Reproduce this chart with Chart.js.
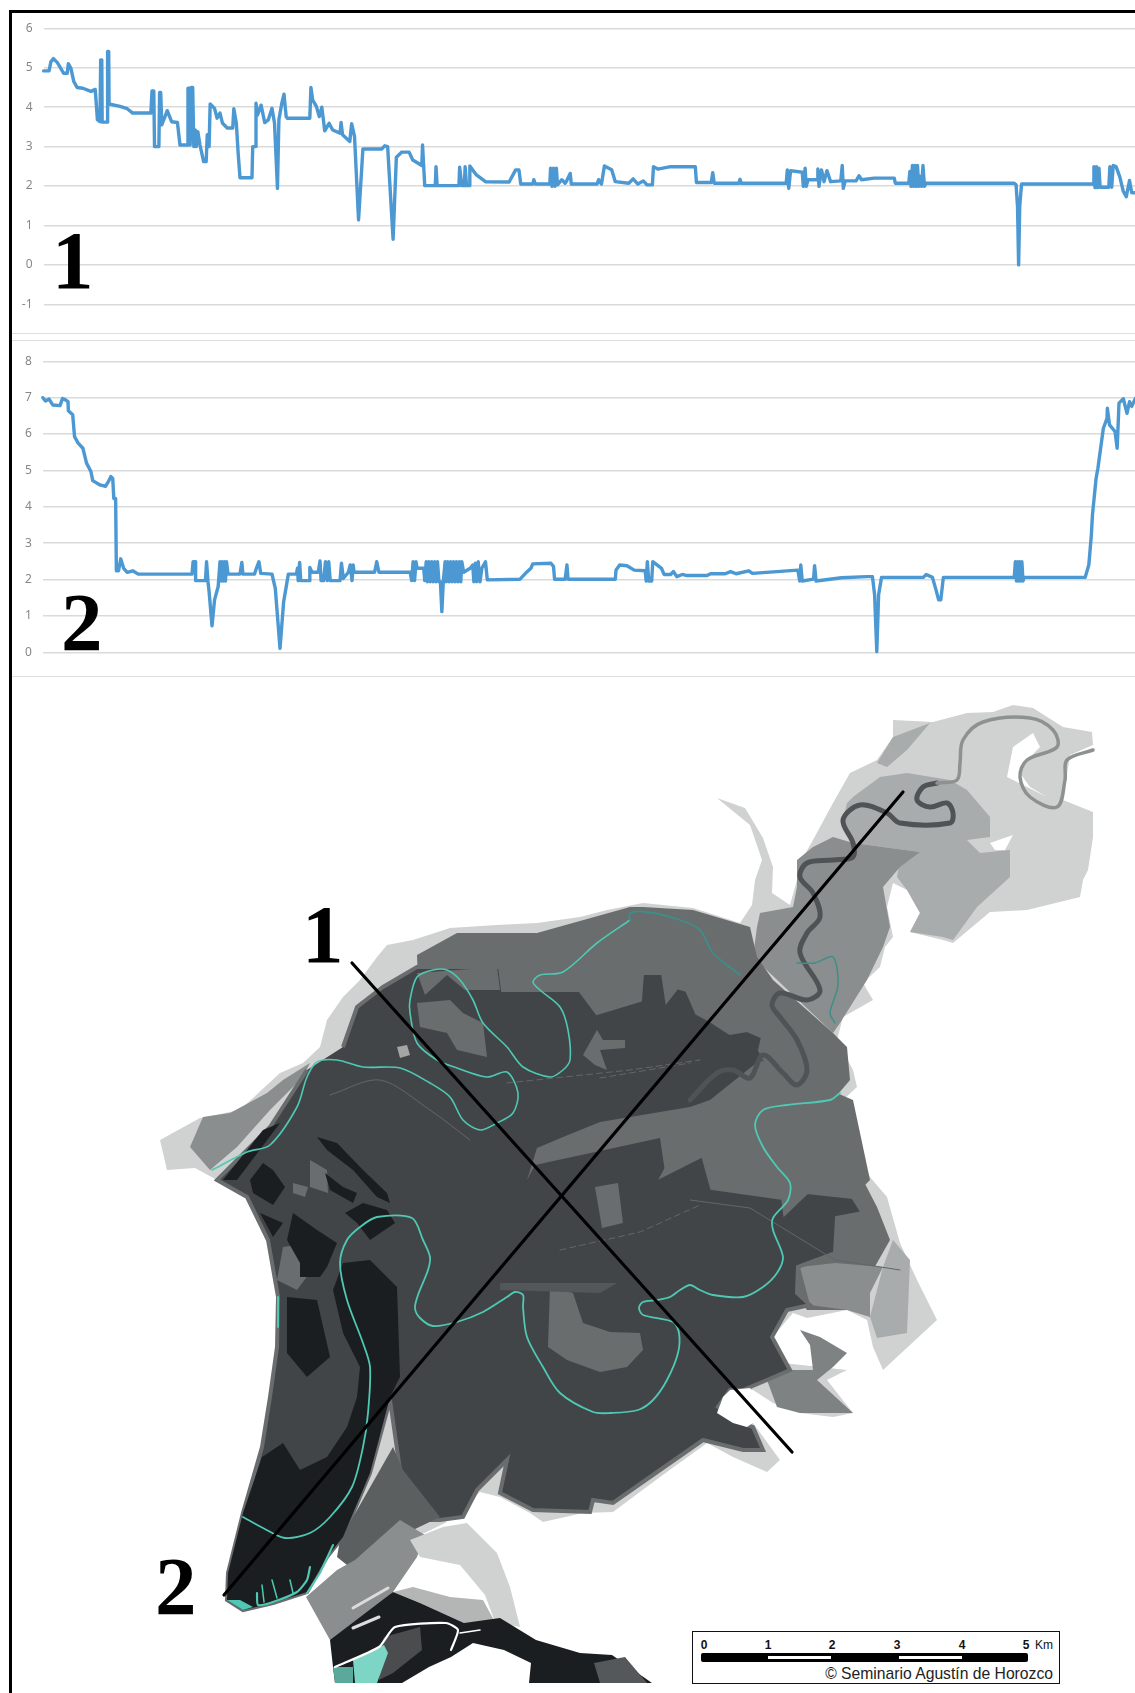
<!DOCTYPE html>
<html lang="es">
<head>
<meta charset="UTF-8">
<title>Perfiles y mapa</title>
<script src="https://cdn.jsdelivr.net/npm/chart.js"></script>
<style>
  html, body { margin: 0; padding: 0; background: #fff; }
  #page { position: relative; width: 1135px; height: 1693px; overflow: hidden; background: #fff; }
  canvas { position: absolute; left: 0; }
  .rule { position: absolute; left: 12px; right: 0; height: 1px; background: #dcdddd; }
  .frame { position: absolute; background: #000; }
  .num { position: absolute; font: bold 83px/83px "Liberation Serif", serif; color: #000; }
  #scale { position: absolute; left: 692px; top: 1631px; width: 366px; height: 51px; border: 1.5px solid #111; background: #fff; }
  .bar { position: absolute; background: #000; }
  .tick { position: absolute; top: 6px; width: 20px; margin-left: -10px; text-align: center; font: bold 12px "Liberation Sans", sans-serif; color: #111; }
  .credit { position: absolute; top: 33px; right: 6px; font: 15.7px "Liberation Sans", sans-serif; color: #222; white-space: nowrap; }
</style>
</head>
<body>
<div id="page">
  <canvas id="perfil1" width="1135" height="333" style="top:0"></canvas>
  <canvas id="perfil2" width="1135" height="336" style="top:340px"></canvas>
  <canvas id="mapa" width="1135" height="1013" style="top:680px"></canvas>

  <div class="frame" style="left:9px;top:10px;width:3px;height:1683px"></div>
  <div class="frame" style="left:9px;top:10px;width:1126px;height:3px"></div>
  <div class="rule" style="top:333px"></div>
  <div class="rule" style="top:340px"></div>
  <div class="rule" style="top:676px"></div>

  <div class="num" style="left:52px;top:219px">1</div>
  <div class="num" style="left:61px;top:581px">2</div>
  <div class="num" style="left:302px;top:893px">1</div>
  <div class="num" style="left:155px;top:1545px">2</div>

  <div id="scale">
    <div class="bar" style="left:8px;top:21px;width:327px;height:9px;border-radius:2px"></div>
    <div class="bar" style="left:75px;top:24px;width:63px;height:3px;background:#fff"></div>
    <div class="bar" style="left:206px;top:24px;width:63px;height:3px;background:#fff"></div>
    <div class="tick" style="left:11px">0</div>
    <div class="tick" style="left:75px">1</div>
    <div class="tick" style="left:139px">2</div>
    <div class="tick" style="left:204px">3</div>
    <div class="tick" style="left:269px">4</div>
    <div class="tick" style="left:333px">5</div>
    <div class="tick" style="left:351px;font-weight:normal">Km</div>
    <div class="credit">© Seminario Agustín de Horozco</div>
  </div>
</div>

<script>
// perfil 1
const dist1 = [
  120,135,140,147,158,175,185,188,195,203,
  212,228,250,262,268,275,277,280,281,295,
  296,299,300,330,350,365,415,418,423,425,
  437,439,442,445,460,472,488,495,515,517,
  521,523,526,530,533,537,540,544,550,560,
  567,570,575,578,590,597,605,612,625,640,
  643,650,655,660,693,695,702,704,708,718,
  728,738,748,755,763,767,775,781,787,790,
  852,855,860,870,878,885,893,905,915,935,
  938,942,962,967,975,986,998,1050,1058,1066,
  1081,1090,1105,1125,1135,1160,1162,1165,1168,1197,
  1199,1202,1262,1264,1270,1277,1279,1283,1290,1292,
  1310,1335,1400,1418,1427,1432,1465,1468,1472,1512,
  1514,1518,1522,1526,1530,1533,1545,1554,
  1557,1568,1571,1642,1646,1654,1662,1682,1692,1729,
  1741,1754,1769,1779,1794,1797,1809,1844,1912,1915,
  1956,1960,1964,2032,2035,2038,2162,2165,2169,2174,
  2206,2209,2214,2217,2222,2247,2249,2252,2259,2266,
  2274,2284,2312,2316,2319,2324,2354,2362,2369,2404,
  2459,2462,2499,2502,2505,2509,2512,2516,2519,2523,
  2526,2530,2534,2538,2542,2546,2789,2794,2798,2801,
  2804,2809,3006,3008,3011,3015,3018,3022,3025,3049,
  3052,3057,3061,3069,3079,3089,3097,3106,3112,3122
];
const nivel1 = [
  4.92,4.92,5.15,5.23,5.13,4.86,4.86,5.1,4.99,4.65,
  4.5,4.48,4.4,4.45,3.68,3.63,5.2,5.2,3.62,3.62,
  5.41,5.41,4.08,4.02,3.96,3.85,3.85,4.41,4.41,3.0,
  3.0,4.37,4.37,3.55,3.91,3.63,3.61,3.04,3.04,4.48,
  4.48,3.04,4.5,4.5,3.0,3.42,3.0,3.38,3.04,2.62,
  2.62,3.3,3.0,4.08,3.97,3.72,3.85,3.59,3.47,3.47,
  3.96,3.59,2.83,2.21,2.21,3.0,3.0,4.1,3.8,4.05,
  3.61,3.68,3.97,3.59,1.94,3.68,4.1,4.33,3.76,3.72,
  3.72,4.5,4.18,4.02,3.76,4.0,3.4,3.59,3.42,3.34,
  3.61,3.3,3.13,3.58,3.25,1.14,2.94,2.94,3.02,3.0,
  0.65,2.73,2.86,2.86,2.66,2.52,3.04,2.52,2.01,2.01,
  2.49,2.01,2.01,2.48,2.01,2.01,2.49,2.01,2.01,2.51,
  2.28,2.11,2.1,2.41,2.41,2.05,2.05,2.16,2.05,2.05,
  2.45,1.99,2.45,1.99,2.45,2.03,2.16,2.07,
  2.11,2.32,2.05,2.05,2.16,2.05,2.51,2.41,2.11,2.07,
  2.18,2.05,2.13,2.03,2.03,2.49,2.43,2.49,2.49,2.09,
  2.09,2.34,2.07,2.07,2.17,2.07,2.07,2.41,1.94,2.39,
  2.35,1.99,2.45,1.99,2.16,2.16,2.43,1.99,2.41,2.11,
  2.39,2.11,2.13,2.52,1.94,2.13,2.13,2.26,2.16,2.2,
  2.2,2.07,2.07,2.37,1.99,2.52,1.99,2.52,1.99,2.52,
  1.99,2.24,1.99,2.52,1.99,2.07,2.07,2.03,1.48,0,
  1.48,2.05,2.05,2.49,1.96,2.49,1.96,2.45,1.97,1.97,
  2.49,1.97,2.52,2.49,2.24,1.86,1.73,2.14,1.83,1.83
];

// perfil 2
const dist2 = [
  118,125,135,145,165,172,180,187,188,200,
  205,215,228,238,250,255,275,290,298,305,
  310,313,318,320,326,332,340,350,365,380,
  528,531,537,538,565,568,572,575,583,590,
  600,605,608,611,614,617,620,623,627,660,
  665,668,700,705,712,717,748,757,770,780,
  793,815,818,820,824,827,850,852,858,875,
  880,883,890,895,900,904,908,935,939,944,
  958,963,968,971,974,1030,1036,1042,1128,1132,
  1136,1140,1144,1147,1165,1168,1172,1175,1179,1183,
  1187,1191,1195,1199,1203,1207,1211,1215,1219,1224,
  1227,1231,1235,1239,1243,1247,1251,1255,1259,1263,
  1267,1270,1275,1293,1300,1303,1307,1311,1315,1320,
  1325,1335,1340,1430,1445,1460,1465,1515,1522,1525,
  1554,1559,1562,1692,1694,1704,1724,1744,1774,
  1777,1780,1784,1792,1795,1819,1826,1844,1852,1861,
  1876,1889,1944,1954,1994,2009,2024,2059,2069,2194,
  2199,2202,2206,2237,2240,2244,2314,2384,2399,2405,
  2411,2416,2424,2539,2547,2564,2574,2581,2587,2594,
  2789,2792,2795,2798,2801,2804,2807,2810,2813,2816,
  2984,2994,3001,3004,3014,3019,3034,3044,3045,3051,
  3066,3072,3077,3089,3099,3106,3112,3122
];
const nivel2 = [
  7.0,6.91,6.96,6.8,6.78,6.98,6.94,6.89,6.64,6.53,
  5.93,5.75,5.61,5.2,4.97,4.72,4.6,4.56,4.69,4.83,
  4.78,4.23,4.23,2.24,2.24,2.57,2.31,2.2,2.24,2.15,
  2.15,2.49,2.49,1.97,1.97,2.49,1.94,1.67,0.73,1.44,
  1.81,2.49,1.96,2.49,1.96,2.49,1.96,2.49,2.15,2.15,
  2.47,2.15,2.15,2.31,2.49,2.17,2.15,1.76,0.11,1.39,
  2.15,2.15,2.31,1.97,2.47,1.97,1.97,2.33,2.2,2.2,
  2.51,1.97,1.97,2.49,1.97,2.49,1.97,1.97,2.45,2.03,
  2.2,2.4,1.97,2.4,2.2,2.2,2.49,2.2,2.2,1.97,
  2.49,1.97,2.49,2.31,2.31,1.97,2.49,1.94,2.49,1.94,
  2.49,1.94,2.49,1.94,2.49,1.94,1.94,1.12,1.94,2.49,
  1.94,2.49,1.94,2.49,1.94,2.49,1.94,2.49,1.94,2.49,
  1.94,2.49,2.2,2.31,2.4,1.94,2.45,1.94,2.49,1.94,
  2.31,2.49,1.99,2.01,2.17,2.31,2.43,2.45,2.36,2.01,
  2.01,2.4,2.01,2.01,2.26,2.4,2.38,2.26,2.24,
  1.96,2.49,1.96,1.96,2.49,2.31,2.14,2.14,2.22,2.08,
  2.14,2.11,2.11,2.16,2.16,2.22,2.16,2.24,2.17,2.26,
  1.96,2.4,1.96,2.01,2.38,1.96,2.05,2.08,2.08,1.58,
  0.02,1.58,2.06,2.06,2.14,2.06,1.71,1.44,1.44,2.06,
  2.06,2.49,1.96,2.49,1.96,2.49,1.96,2.49,1.96,2.06,
  2.06,2.4,3.23,3.78,4.78,5.06,6.16,6.43,6.71,6.25,
  6.07,5.61,6.85,6.97,6.57,6.89,6.76,6.98
];

const zonaInundada = [[160,1140],[200,1118],[240,1110],[267,1085],[280,1073],[303,1063],[320,1047],[327,1020],[343,997],[360,980],[377,957],[387,945],[413,940],[450,928],[497,925],[537,923],[580,917],[607,910],[643,903],[693,908],[740,923],[752,905],[755,880],[762,860],[750,825],[717,798],[745,808],[763,838],[773,867],[772,893],[790,905],[797,880],[800,863],[813,840],[833,803],[850,773],[877,760],[893,737],[893,720],[933,722],[967,713],[993,712],[1013,705],[1033,708],[1063,727],[1092,732],[1093,745],[1070,755],[1063,800],[1093,812],[1093,837],[1088,870],[1083,880],[1080,897],[1027,910],[990,912],[953,943],[943,940],[910,932],[920,913],[907,890],[893,883],[887,907],[893,937],[885,947],[880,967],[863,983],[873,1000],[843,1017],[837,1040],[853,1070],[857,1087],[843,1100],[853,1143],[870,1177],[887,1197],[900,1243],[917,1280],[937,1320],[883,1370],[873,1347],[867,1320],[847,1310],[807,1318],[793,1313],[770,1340],[783,1363],[847,1370],[827,1380],[853,1413],[833,1417],[800,1413],[773,1403],[753,1390],[727,1390],[717,1410],[753,1423],[780,1460],[767,1472],[733,1457],[707,1443],[660,1477],[613,1512],[583,1513],[543,1522],[530,1513],[500,1497],[480,1492],[445,1523],[410,1540],[343,1537],[327,1557],[307,1592],[273,1603],[243,1610],[227,1600],[228,1573],[243,1513],[262,1447],[270,1397],[277,1347],[278,1297],[268,1240],[247,1197],[217,1180],[195,1168],[167,1170]];
const haloOeste = [[210,1170],[237,1147],[270,1110],[303,1077],[310,1063],[283,1080],[267,1093],[230,1113],[203,1117],[190,1147]];
const zonaMediaNE = [[853,797],[880,777],[907,773],[950,780],[967,790],[990,817],[990,837],[967,840],[980,853],[1010,850],[1010,877],[977,907],[953,940],[943,937],[910,932],[920,913],[907,890],[897,877],[900,860],[920,852],[853,843],[843,820],[847,803]];
const zonaMediaN = [[893,737],[930,723],[907,750],[887,767],[877,763]];
const huecoNE = [[1013,747],[1033,733],[1040,747],[1027,760],[1020,773],[1030,787],[1047,797],[1007,777]];
const huecoE = [[990,843],[1013,835],[1005,850],[995,850]];
const zonaMeandro = [[797,860],[813,847],[833,837],[853,843],[920,852],[900,867],[883,887],[890,927],[883,947],[867,980],[840,1023],[833,1033],[753,957],[757,927],[760,913],[793,907],[797,887]];
const zonaGris = [[417,955],[457,933],[537,933],[630,907],[643,907],[693,910],[750,927],[757,957],[773,980],[833,1033],[847,1047],[850,1080],[833,1100],[847,1147],[863,1180],[877,1207],[890,1240],[873,1270],[867,1300],[847,1310],[807,1310],[800,1300],[740,1290],[500,1200],[420,1030]];
const zonaSE1 = [[800,1267],[835,1263],[883,1267],[870,1293],[870,1317],[847,1310],[810,1305]];
const zonaSE2 = [[883,1267],[893,1240],[910,1260],[907,1333],[877,1338],[870,1317]];
const zonaSur = [[800,1330],[820,1337],[847,1353],[833,1367],[817,1380],[853,1413],[833,1413],[800,1413],[777,1407],[767,1380],[790,1370],[813,1370],[810,1345]];
const zonaOscura = [[343,1047],[357,1007],[383,987],[417,967],[500,967],[503,990],[580,990],[597,1013],[640,1000],[642,973],[663,973],[667,1000],[677,987],[687,990],[697,1013],[710,1020],[730,1033],[747,1030],[763,1037],[760,1050],[780,1090],[700,1107],[663,1175],[703,1155],[712,1188],[783,1198],[785,1213],[807,1192],[853,1197],[863,1213],[837,1218],[835,1253],[798,1267],[797,1293],[810,1305],[787,1310],[772,1337],[790,1370],[767,1380],[743,1390],[730,1390],[718,1407],[733,1420],[753,1427],[763,1450],[743,1450],[703,1440],[660,1470],[613,1503],[593,1500],[590,1512],[533,1510],[500,1493],[507,1460],[477,1490],[463,1517],[440,1520],[397,1520],[395,1515],[400,1470],[390,1400],[370,1473],[343,1537],[327,1557],[307,1592],[273,1603],[243,1610],[227,1600],[228,1573],[243,1513],[262,1447],[270,1397],[277,1347],[278,1297],[268,1240],[247,1197],[217,1180],[270,1127],[307,1070]];
const huecoSE = [[730,1390],[750,1388],[767,1413],[747,1427],[733,1423],[717,1413],[723,1397]];
const bloqueNO1 = [[417,973],[497,967],[500,990],[465,990],[447,975],[425,995]];
const bloqueNO2 = [[417,1003],[450,1000],[463,1013],[483,1023],[487,1057],[457,1050],[447,1033],[420,1027]];
const bloqueT = [[583,1055],[597,1030],[603,1040],[625,1040],[625,1048],[600,1050],[607,1070],[595,1065]];
const laguna = [[397,1047],[407,1045],[410,1055],[400,1058]];
const bloqueCentro = [[527,1180],[537,1148],[563,1137],[600,1122],[690,1107],[710,1100],[760,1060],[853,1100],[870,1180],[853,1197],[807,1192],[785,1213],[783,1198],[712,1188],[703,1155],[665,1172],[660,1138],[535,1165]];
const bloqueRect = [[595,1187],[618,1183],[623,1223],[602,1228]];
const herradura = [[550,1287],[573,1293],[583,1323],[610,1332],[640,1333],[643,1350],[627,1367],[600,1372],[567,1360],[548,1347]];
const franjaCentro = [[500,1283],[617,1283],[600,1293],[500,1290]];
const bandaSur = [[340,1540],[393,1447],[403,1470],[440,1517],[413,1530],[383,1580],[357,1573],[337,1557]];
const puerto = [[306,1597],[330,1640],[344,1645],[379,1620],[384,1600],[393,1592],[417,1557],[425,1535],[400,1520],[355,1560],[337,1570]];
const zonaClaraSur = [[410,1540],[443,1527],[467,1523],[497,1553],[510,1587],[520,1627],[495,1622],[485,1595],[460,1565],[420,1557]];
const halosSur = [[413,1587],[450,1597],[483,1600],[495,1622],[464,1623],[420,1603],[393,1592]];
const franjaOeste = [[283,1247],[310,1243],[317,1263],[297,1290],[277,1280]];
const parcelaO1 = [[310,1160],[327,1170],[328,1193],[310,1187]];
const parcelaO2 = [[293,1183],[308,1187],[305,1197],[293,1193]];
const muyOscura1 = [[262,1457],[283,1443],[300,1470],[327,1457],[347,1427],[357,1397],[360,1367],[343,1333],[333,1290],[343,1263],[370,1260],[397,1287],[400,1377],[390,1397],[370,1473],[343,1537],[327,1557],[307,1592],[273,1603],[243,1610],[227,1600],[228,1573],[243,1513]];
const muyOscuraA = [[250,1180],[263,1163],[273,1170],[285,1187],[273,1205],[253,1193]];
const muyOscuraB = [[260,1213],[283,1223],[273,1237]];
const muyOscuraC = [[293,1213],[317,1230],[337,1243],[327,1267],[320,1277],[300,1277],[300,1263],[287,1240]];
const muyOscuraD = [[317,1137],[337,1143],[363,1170],[387,1193],[390,1203],[377,1197],[353,1170],[327,1150]];
const muyOscuraE = [[345,1213],[363,1203],[387,1210],[395,1223],[370,1240],[357,1223]];
const muyOscuraF = [[325,1173],[343,1187],[357,1193],[353,1203],[330,1190]];
const muyOscura3 = [[287,1297],[317,1300],[330,1357],[307,1377],[287,1353]];
const muyOscura4 = [[263,1130],[280,1123],[237,1180],[223,1180]];
const tiraSur = [[330,1640],[393,1592],[420,1603],[464,1623],[500,1618],[536,1640],[580,1653],[612,1655],[652,1683],[529,1683],[531,1663],[504,1650],[473,1643],[451,1657],[429,1667],[402,1683],[335,1683],[333,1667]];
const tiraGris = [[384,1637],[420,1627],[422,1650],[393,1673],[379,1680],[379,1650]];
const tiraEste = [[594,1663],[625,1657],[647,1683],[600,1683]];
const manchaTurquesa1 = [[353,1660],[384,1645],[388,1653],[377,1683],[355,1683]];
const manchaTurquesa2 = [[333,1667],[353,1667],[353,1683],[335,1683]];
const costaTurquesa = [[227,1600],[243,1610],[253,1607],[240,1600]];

const rioBajo = [[690,1100],[717,1073],[733,1070],[750,1078],[763,1055],[783,1073],[797,1085],[807,1070],[797,1040],[780,1017],[772,1005],[780,993],[807,1000],[820,990],[800,953],[807,933],[820,917],[813,893],[800,877],[807,863],[833,860],[853,857],[853,843],[843,820],[860,805],[887,813],[900,823],[950,823],[953,813],[947,803],[930,807],[917,800],[923,787],[937,783]];
const rioAlto = [[937,783],[957,780],[960,763],[963,740],[983,722],[1030,718],[1053,730],[1057,747],[1027,760],[1020,777],[1030,797],[1057,807],[1065,780],[1067,760],[1093,750]];
const rioBlanco = [[335,1667],[379,1647],[395,1627],[446,1623],[458,1630],[451,1650]];
const rioBlanco2 = [[460,1633],[480,1630]];
const estela1 = [[353,1608],[388,1588]];
const estela2 = [[353,1628],[379,1617]];

const canal1 = [[507,1083],[630,1070],[700,1060]];
const canal2 = [[600,1078],[690,1063]];
const canal3 = [[330,1095],[380,1080],[430,1110],[470,1140]];
const canal4 = [[690,1200],[750,1208],[835,1260],[900,1270]];
const canal6 = [[560,1250],[640,1232],[700,1205]];

const linde1 = [[630,920],[597,943],[563,972],[540,975],[533,982],[540,990],[560,1007],[568,1030],[570,1060],[563,1070],[550,1077],[523,1067],[507,1047],[483,1023],[473,1000],[460,980],[447,970],[433,970],[417,977],[410,1000],[410,1013],[417,1043],[437,1060],[457,1068],[487,1077],[507,1072],[518,1093],[513,1113],[497,1123],[480,1130],[463,1120],[450,1097],[430,1083],[400,1068],[363,1067],[337,1060],[317,1062],[307,1077],[297,1107],[270,1145],[247,1152],[212,1170]];
const linde2 = [[630,920],[630,913],[647,912],[680,920],[700,930],[713,953],[740,975]];
const linde3 = [[840,1093],[830,1100],[787,1105],[763,1110],[755,1125],[763,1147],[777,1167],[790,1183],[788,1200],[773,1218],[773,1230],[783,1257],[777,1273],[763,1287],[743,1297],[713,1295],[700,1290],[690,1285],[680,1290],[670,1297],[657,1300],[643,1302],[639,1308],[643,1315],[673,1322],[679,1333],[678,1353],[667,1380],[653,1400],[638,1410],[610,1413],[593,1412],[560,1393],[543,1367],[527,1337],[523,1307],[523,1295],[515,1292],[507,1297],[483,1312],[457,1322],[433,1326],[420,1318],[415,1308],[418,1295],[428,1270],[430,1257],[423,1240],[412,1218],[377,1217],[360,1227],[347,1240],[340,1263],[347,1300],[363,1343],[370,1367],[368,1413],[363,1447],[352,1487],[330,1517],[310,1533],[285,1538],[263,1528],[243,1517]];
const linde4 = [[333,1545],[320,1573],[307,1593]];
const linde5 = [[278,1297],[278,1327]];
const linde6 = [[797,963],[815,963],[833,957],[838,985],[830,1013],[835,1023]];
const costaSur = [[310,1567],[307,1580],[297,1592],[273,1602],[258,1605],[257,1593]];
const diente1 = [[277,1598],[272,1580]];
const diente2 = [[293,1593],[290,1580]];
const diente3 = [[264,1602],[262,1585]];

const corte1 = [[352,963],[792,1452]];
const corte2 = [[903,792],[224,1595]];

const AZUL = '#4b98d3';
const CLARO = '#d0d1d1', MEDIO = '#a9acac', GRIS = '#8b8e8e', GRIS2 = '#6a6d6e';
const OSCURO = '#424548', NEGRO = '#1b1e20', TURQUESA = '#4fc8b4';

// rellena cada contorno con los puntos ya escalados por Chart.js
const rellenoContornos = {
  id: 'rellenoContornos',
  beforeDatasetDraw(chart, args) {
    const ds = chart.data.datasets[args.index];
    if (!ds.contorno) return;
    const pts = args.meta.data;
    const ctx = chart.ctx;
    ctx.save();
    ctx.beginPath();
    pts.forEach((p, i) => i ? ctx.lineTo(p.x, p.y) : ctx.moveTo(p.x, p.y));
    ctx.closePath();
    ctx.fillStyle = ds.relleno;
    ctx.fill();
    ctx.restore();
  }
};

function perfil(id, xs, ys, xMin, yMin, yMax, anchoEje, arriba, abajo) {
  new Chart(document.getElementById(id), {
    type: 'scatter',
    data: { datasets: [{
      data: xs.map((x, i) => ({ x: x, y: ys[i] })),
      showLine: true, borderColor: AZUL, borderWidth: 3.4, pointRadius: 0,
      tension: 0, borderJoinStyle: 'round', borderCapStyle: 'round', clip: false
    }] },
    options: {
      responsive: false, animation: false,
      layout: { padding: { top: arriba, bottom: abajo } },
      plugins: { legend: { display: false }, tooltip: { enabled: false } },
      scales: {
        x: { type: 'linear', min: xMin, max: 3121, display: false },
        y: {
          min: yMin, max: yMax, border: { display: false },
          grid: { color: '#d9dbdb', lineWidth: 1.4, drawTicks: false },
          ticks: { stepSize: 1, color: '#858789', padding: 11, font: { family: '"Noto Sans"', size: 12 } },
          afterFit(scale) { scale.width = anchoEje; }
        }
      }
    }
  });
}

perfil('perfil1', dist1, nivel1, 120, -1, 6, 43.6, 28.3, 28.7);
perfil('perfil2', dist2, nivel2, 118, 0, 8, 42.9, 21.3, 23.7);

function zona(pts, color) {
  return { data: pts.map(p => ({ x: p[0], y: p[1] })), showLine: false, pointRadius: 0, contorno: true, relleno: color };
}
function zonaBorde(pts, color, borde, ancho) {
  return { data: pts.map(p => ({ x: p[0], y: p[1] })), showLine: true, pointRadius: 0, borderColor: borde, borderWidth: ancho, contorno: true, relleno: color };
}
function traza(pts, color, ancho, curva, guion) {
  return { data: pts.map(p => ({ x: p[0], y: p[1] })), showLine: true, pointRadius: 0, borderColor: color, borderWidth: ancho, borderDash: guion || [], tension: curva || 0, borderJoinStyle: 'round', borderCapStyle: 'round' };
}

const capas = [
  zona(zonaInundada, CLARO),
  zona(haloOeste, GRIS),
  zona(huecoNE, '#ffffff'),
  zona(huecoE, '#ffffff'),
  zona(zonaMediaNE, MEDIO),
  zona(zonaMediaN, MEDIO),
  zona(zonaMeandro, GRIS),
  zona(zonaGris, GRIS2),
  zona(zonaSE1, GRIS),
  zona(zonaSE2, MEDIO),
  zona(zonaSur, '#7f8283'),
  zonaBorde(zonaOscura, OSCURO, GRIS2, 4),
  zona(huecoSE, '#ffffff'),
  zona(bloqueNO1, GRIS2),
  zona(bloqueNO2, GRIS2),
  zona(bloqueT, GRIS2),
  zona(laguna, '#a4a6a6'),
  zona(bloqueCentro, GRIS2),
  zona(bloqueRect, GRIS2),
  zona(herradura, GRIS2),
  zona(franjaCentro, '#54575a'),
  zona(bandaSur, '#5c5f60'),
  zona(puerto, GRIS),
  zona(zonaClaraSur, CLARO),
  zona(halosSur, '#b4b6b6'),
  zona(franjaOeste, GRIS2),
  zona(parcelaO1, GRIS2),
  zona(parcelaO2, GRIS2),
  zona(muyOscura1, NEGRO),
  zona(muyOscuraA, NEGRO),
  zona(muyOscuraB, NEGRO),
  zona(muyOscuraC, NEGRO),
  zona(muyOscuraD, NEGRO),
  zona(muyOscuraE, NEGRO),
  zona(muyOscuraF, NEGRO),
  zona(muyOscura3, NEGRO),
  zona(muyOscura4, NEGRO),
  zona(tiraSur, NEGRO),
  zona(tiraGris, '#4a4c4e'),
  zona(tiraEste, '#55585a'),
  zona(manchaTurquesa1, '#7dd5c5'),
  zona(manchaTurquesa2, '#5ba99c'),
  zona(costaTurquesa, TURQUESA),
  traza(rioBajo, '#505355', 5, 0.35),
  traza(rioAlto, '#8e9192', 3.5, 0.35),
  traza(rioBlanco, '#ffffff', 2.2, 0.2),
  traza(rioBlanco2, '#ffffff', 1.6),
  traza(estela1, '#dcdcdc', 3),
  traza(estela2, '#dcdcdc', 3),
  traza(canal1, '#62666a', 1, 0, [6, 4]),
  traza(canal2, '#62666a', 1, 0, [6, 4]),
  traza(canal3, '#62666a', 1, 0.3),
  traza(canal4, '#62666a', 1),
  traza(canal6, '#62666a', 1, 0, [6, 4]),
  traza(linde1, TURQUESA, 1.6, 0.3),
  traza(linde2, '#3c8f88', 1.8, 0.3),
  traza(linde3, TURQUESA, 1.8, 0.3),
  traza(linde4, TURQUESA, 2),
  traza(linde5, TURQUESA, 2),
  traza(linde6, '#3c8f88', 1.5, 0.3),
  traza(costaSur, TURQUESA, 2.2, 0.2),
  traza(diente1, TURQUESA, 1.5),
  traza(diente2, TURQUESA, 1.5),
  traza(diente3, TURQUESA, 1.5),
  traza(corte1, '#000000', 3.2),
  traza(corte2, '#000000', 3.2)
];
capas.forEach((c, i) => { c.order = -i; });

new Chart(document.getElementById('mapa'), {
  type: 'scatter',
  data: { datasets: capas },
  plugins: [rellenoContornos],
  options: {
    responsive: false, animation: false,
    layout: { padding: 0 },
    plugins: { legend: { display: false }, tooltip: { enabled: false } },
    scales: {
      x: { type: 'linear', min: 0, max: 1135, display: false },
      y: { type: 'linear', min: 680, max: 1693, reverse: true, display: false }
    }
  }
});
</script>
</body>
</html>
